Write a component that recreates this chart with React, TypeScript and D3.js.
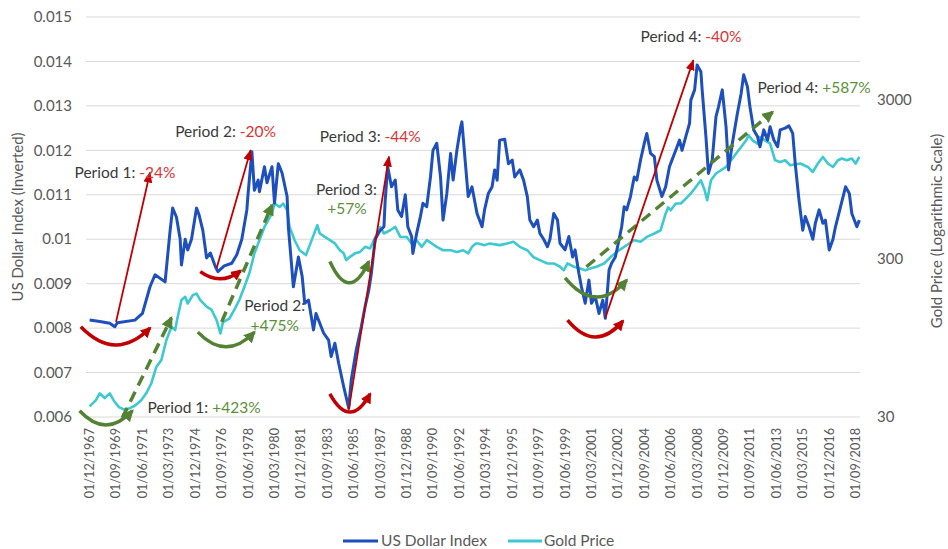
import React from "react";
import * as d3 from "d3";

// ---------- data ----------
const xTickLabels = [
  "01/12/1967", "01/09/1969", "01/06/1971", "01/03/1973", "01/12/1974", "01/09/1976",
  "01/06/1978", "01/03/1980", "01/12/1981", "01/09/1983", "01/06/1985", "01/03/1987",
  "01/12/1988", "01/09/1990", "01/06/1992", "01/03/1994", "01/12/1995", "01/09/1997",
  "01/06/1999", "01/03/2001", "01/12/2002", "01/09/2004", "01/06/2006", "01/03/2008",
  "01/12/2009", "01/09/2011", "01/06/2013", "01/03/2015", "01/12/2016", "01/09/2018",
];
const leftTicks = [0.006, 0.007, 0.008, 0.009, 0.01, 0.011, 0.012, 0.013, 0.014, 0.015];
const leftTickLabels = ["0.006", "0.007", "0.008", "0.009", "0.01", "0.011", "0.012", "0.013", "0.014", "0.015"];
const rightTicks = [30, 300, 3000];
const rightTickLabels = ["30", "300", "3000"];

// US Dollar Index (inverted = 1/DXY), month -> value
const usdIndex: [string, number][] = [
  ["1967-12", 0.00818], ["1968-08", 0.00815], ["1969-04", 0.00811], ["1969-08", 0.00803], ["1969-10", 0.00812],
  ["1970-12", 0.00818], ["1971-06", 0.00833], ["1971-12", 0.00893], ["1972-04", 0.0092], ["1972-12", 0.00904],
  ["1973-04", 0.0102], ["1973-06", 0.0107], ["1973-09", 0.0105], ["1973-12", 0.01], ["1974-01", 0.00942],
  ["1974-04", 0.01], ["1974-06", 0.00976], ["1974-09", 0.01], ["1975-01", 0.0107], ["1975-03", 0.01055],
  ["1975-06", 0.0102], ["1975-09", 0.00958], ["1975-12", 0.00969], ["1976-04", 0.00938], ["1976-06", 0.00927],
  ["1976-11", 0.0094], ["1977-05", 0.00946], ["1977-09", 0.00965], ["1978-01", 0.01], ["1978-05", 0.01066],
  ["1978-06", 0.01103], ["1978-09", 0.01197], ["1978-11", 0.0111], ["1979-02", 0.01133], ["1979-03", 0.01107],
  ["1979-07", 0.01163], ["1979-09", 0.01127], ["1980-01", 0.01163], ["1980-03", 0.01081], ["1980-06", 0.0117],
  ["1980-09", 0.01149], ["1981-01", 0.01096], ["1981-02", 0.01028], ["1981-06", 0.00893], ["1981-10", 0.0096],
  ["1982-01", 0.00916], ["1982-03", 0.00856], ["1982-06", 0.00863], ["1982-10", 0.00796], ["1982-12", 0.00833],
  ["1983-06", 0.00789], ["1983-10", 0.00773], ["1983-12", 0.00736], ["1984-03", 0.00766], ["1984-06", 0.00721],
  ["1984-10", 0.00668], ["1985-02", 0.0062], ["1985-04", 0.00683], ["1985-08", 0.00751], ["1985-12", 0.00803],
  ["1986-03", 0.00848], ["1986-06", 0.00886], ["1986-08", 0.00923], ["1986-11", 0.01], ["1987-03", 0.0102],
  ["1987-06", 0.01028], ["1987-07", 0.01088], ["1987-09", 0.01163], ["1987-12", 0.01118], ["1988-03", 0.01133],
  ["1988-05", 0.01066], ["1988-08", 0.01051], ["1988-11", 0.011], ["1989-01", 0.01028], ["1989-04", 0.01006],
  ["1989-05", 0.00968], ["1989-08", 0.01013], ["1989-11", 0.01051], ["1990-01", 0.01081], ["1990-04", 0.01073],
  ["1990-07", 0.0114], ["1990-09", 0.012], ["1990-12", 0.01216], ["1991-03", 0.0114], ["1991-05", 0.01043],
  ["1991-08", 0.01103], ["1991-11", 0.01193], ["1992-01", 0.01133], ["1992-04", 0.012], ["1992-07", 0.01253],
  ["1992-08", 0.01264], ["1992-11", 0.01163], ["1993-01", 0.01096], ["1993-04", 0.01118], ["1993-08", 0.01058],
  ["1993-12", 0.01028], ["1994-02", 0.01066], ["1994-05", 0.01103], ["1994-08", 0.01118], ["1994-10", 0.01156],
  ["1994-12", 0.01133], ["1995-02", 0.01223], ["1995-06", 0.01225], ["1995-09", 0.0117], ["1995-12", 0.01178],
  ["1996-02", 0.0114], ["1996-06", 0.01156], ["1996-09", 0.01133], ["1996-12", 0.01096], ["1997-02", 0.01043],
  ["1997-05", 0.01028], ["1997-08", 0.01043], ["1997-10", 0.01013], ["1998-01", 0.01], ["1998-04", 0.00983],
  ["1998-06", 0.01], ["1998-09", 0.01058], ["1998-12", 0.01043], ["1999-02", 0.00991], ["1999-06", 0.00976],
  ["1999-09", 0.01006], ["1999-12", 0.0096], ["2000-02", 0.00976], ["2000-05", 0.00923], ["2000-07", 0.00893],
  ["2000-10", 0.00856], ["2001-01", 0.00908], ["2001-03", 0.00856], ["2001-06", 0.00871], ["2001-09", 0.00833],
  ["2001-12", 0.00863], ["2002-02", 0.00822], ["2002-05", 0.00931], ["2002-07", 0.00946], ["2002-10", 0.0096],
  ["2003-01", 0.01], ["2003-03", 0.01028], ["2003-05", 0.01073], ["2003-07", 0.01066], ["2003-10", 0.01096],
  ["2004-01", 0.0114], ["2004-03", 0.01133], ["2004-06", 0.01178], ["2004-09", 0.01216], ["2004-11", 0.01238],
  ["2005-02", 0.01193], ["2005-05", 0.01186], ["2005-07", 0.01133], ["2005-11", 0.01096], ["2006-02", 0.01118],
  ["2006-05", 0.01163], ["2006-07", 0.01178], ["2006-10", 0.012], ["2007-01", 0.01223], ["2007-03", 0.012],
  ["2007-06", 0.01231], ["2007-09", 0.01261], ["2007-10", 0.01313], ["2008-01", 0.01336], ["2008-03", 0.01392],
  ["2008-06", 0.01377], ["2008-07", 0.01336], ["2008-10", 0.01231], ["2008-12", 0.01148], ["2009-03", 0.01178],
  ["2009-06", 0.01276], ["2009-08", 0.01298], ["2009-11", 0.01336], ["2010-02", 0.01253], ["2010-04", 0.01156],
  ["2010-07", 0.01216], ["2010-11", 0.01283], ["2011-02", 0.01328], ["2011-04", 0.0137], ["2011-07", 0.01343],
  ["2011-09", 0.01298], ["2011-12", 0.01246], ["2012-03", 0.01231], ["2012-05", 0.01208], ["2012-08", 0.01246],
  ["2012-11", 0.01223], ["2013-01", 0.01253], ["2013-04", 0.01223], ["2013-07", 0.01208], ["2013-09", 0.01246],
  ["2014-01", 0.0125], ["2014-04", 0.01255], ["2014-07", 0.01238], ["2014-09", 0.0117], ["2014-12", 0.01088],
  ["2015-03", 0.0102], ["2015-05", 0.01051], ["2015-08", 0.01028], ["2015-11", 0.01], ["2016-01", 0.01036],
  ["2016-04", 0.01066], ["2016-07", 0.01036], ["2016-09", 0.01043], ["2016-12", 0.00976], ["2017-03", 0.01],
  ["2017-05", 0.01028], ["2017-09", 0.01073], ["2018-01", 0.01118], ["2018-04", 0.01103], ["2018-06", 0.01058],
  ["2018-10", 0.01028], ["2018-12", 0.01043],
];

// Gold price (USD/oz), month -> value
const goldPrice: [string, number][] = [
  ["1967-12", 35], ["1968-05", 38.3], ["1968-08", 42.3], ["1968-12", 39.5], ["1969-04", 42.3], ["1969-07", 38.3],
  ["1969-11", 34.8], ["1970-03", 33.5], ["1970-08", 34.1], ["1970-12", 35.3], ["1971-05", 38.3], ["1971-09", 42.3],
  ["1972-01", 48.8], ["1972-05", 62.1], ["1972-09", 68.5], ["1973-01", 91.5], ["1973-05", 111], ["1973-08", 106],
  ["1973-10", 128], ["1974-01", 164], ["1974-04", 172], ["1974-06", 156], ["1974-10", 176], ["1975-01", 180],
  ["1975-04", 164], ["1975-09", 149], ["1976-01", 142], ["1976-05", 122], ["1976-08", 101], ["1976-10", 119],
  ["1977-03", 125], ["1977-07", 142], ["1977-11", 164], ["1978-03", 198], ["1978-07", 242], ["1978-11", 323],
  ["1979-03", 391], ["1979-07", 474], ["1980-01", 577], ["1980-03", 666], ["1980-07", 634], ["1980-10", 666],
  ["1981-01", 604], ["1981-03", 474], ["1981-07", 391], ["1981-11", 338], ["1982-04", 315], ["1982-09", 400],
  ["1983-01", 486], ["1983-03", 431], ["1983-07", 410], ["1983-11", 391], ["1984-03", 373], ["1984-07", 338],
  ["1984-10", 323], ["1984-12", 293], ["1985-03", 307], ["1985-07", 323], ["1985-11", 330], ["1986-03", 355],
  ["1986-07", 347], ["1986-10", 391], ["1987-03", 474], ["1987-06", 431], ["1987-11", 452], ["1988-03", 474],
  ["1988-07", 410], ["1988-12", 410], ["1989-04", 373], ["1989-08", 391], ["1989-12", 355], ["1990-04", 391],
  ["1990-08", 373], ["1990-12", 355], ["1991-05", 338], ["1991-11", 338], ["1992-04", 330], ["1992-09", 338],
  ["1993-01", 323], ["1993-04", 355], ["1993-07", 373], ["1993-09", 373], ["1994-02", 364], ["1994-06", 373],
  ["1995-02", 364], ["1995-08", 373], ["1996-01", 382], ["1996-06", 355], ["1996-12", 338], ["1997-05", 305],
  ["1997-10", 293], ["1998-04", 279], ["1998-09", 279], ["1999-02", 266], ["1999-05", 253], ["1999-08", 279],
  ["2000-01", 266], ["2000-06", 259], ["2000-10", 253], ["2001-02", 259], ["2001-07", 266], ["2002-01", 279],
  ["2002-06", 305], ["2002-11", 330], ["2003-05", 355], ["2003-09", 373], ["2004-01", 391], ["2004-06", 382],
  ["2004-11", 410], ["2005-05", 431], ["2005-10", 452], ["2006-02", 577], ["2006-04", 630], ["2006-06", 604],
  ["2006-10", 666], ["2007-02", 666], ["2007-06", 716], ["2007-10", 771], ["2008-02", 847], ["2008-06", 934],
  ["2008-09", 808], ["2008-11", 699], ["2009-02", 934], ["2009-06", 1030], ["2009-10", 1080], ["2010-02", 1133],
  ["2010-06", 1248], ["2010-10", 1376], ["2011-02", 1515], ["2011-06", 1668], ["2011-08", 1797], ["2011-11", 1668],
  ["2012-03", 1592], ["2012-05", 1750], ["2012-09", 1668], ["2013-01", 1592], ["2013-05", 1248], ["2013-09", 1218],
  ["2014-01", 1248], ["2014-05", 1161], ["2015-01", 1191], ["2015-07", 1133], ["2015-11", 1053], ["2016-03", 1191],
  ["2016-07", 1310], ["2016-11", 1191], ["2017-03", 1133], ["2017-07", 1248], ["2017-10", 1280], ["2018-02", 1248],
  ["2018-06", 1280], ["2018-09", 1191], ["2018-12", 1310],
];

// annotations, in (month, left-axis value) units
type Pt = [string, number];
const redArrows: { from: Pt; to: Pt }[] = [
  { from: ["1969-09", 0.00814], to: ["1971-12", 0.0115] },
  { from: ["1976-05", 0.00935], to: ["1978-08", 0.012] },
  { from: ["1985-02", 0.00616], to: ["1987-10", 0.01186] },
  { from: ["2002-02", 0.00823], to: ["2007-12", 0.01403] },
];
const greenArrows: { from: Pt; to: Pt }[] = [
  { from: ["1970-02", 0.00598], to: ["1973-05", 0.00823] },
  { from: ["1976-09", 0.00814], to: ["1980-01", 0.01077] },
  { from: ["2000-11", 0.00938], to: ["2013-03", 0.01286] },
];
const redArcs: { left: Pt; right: Pt; bottom: number }[] = [
  { left: ["1967-05", 0.00803], right: ["1971-12", 0.008], bottom: 0.00762 },
  { left: ["1975-04", 0.00927], right: ["1977-12", 0.00929], bottom: 0.00911 },
  { left: ["1983-11", 0.00652], right: ["1986-07", 0.00652], bottom: 0.00611 },
  { left: ["1999-08", 0.00818], right: ["2003-04", 0.00816], bottom: 0.0078 },
];
const greenArcs: { left: Pt; right: Pt; bottom: number }[] = [
  { left: ["1967-04", 0.00614], right: ["1970-10", 0.00614], bottom: 0.00582 },
  { left: ["1975-02", 0.00791], right: ["1978-11", 0.00791], bottom: 0.00758 },
  { left: ["1983-11", 0.0095], right: ["1986-06", 0.0095], bottom: 0.00902 },
  { left: ["1999-06", 0.00913], right: ["2003-07", 0.00908], bottom: 0.0087 },
];
const labels: { at: Pt; label: string; value: string; kind: "red" | "green" }[] = [
  { at: ["1966-12", 0.01138], label: "Period 1: ", value: "-24%", kind: "red" },
  { at: ["1973-08", 0.0123], label: "Period 2: ", value: "-20%", kind: "red" },
  { at: ["1983-03", 0.01219], label: "Period 3: ", value: "-44%", kind: "red" },
  { at: ["2004-06", 0.01444], label: "Period 4: ", value: "-40%", kind: "red" },
  { at: ["1971-10", 0.00609], label: "Period 1: ", value: "+423%", kind: "green" },
  { at: ["2012-03", 0.01329], label: "Period 4: ", value: "+587%", kind: "green" },
];
const stackedLabels: { at: Pt; valueAt: Pt; label: string; value: string }[] = [
  { at: ["1978-03", 0.00839], valueAt: ["1978-08", 0.00794], label: "Period 2:", value: "+475%" },
  { at: ["1982-12", 0.011], valueAt: ["1983-09", 0.01057], label: "Period 3:", value: "+57%" },
];

// ---------- styles ----------
const FONT = "Lato, 'Open Sans', sans-serif";
const BLUE = "#1d4fbf";
const CYAN = "#3ec8d0";
const RED = "#c00000";
const RED_TXT = "#dd3232";
const GREEN = "#548235";
const GREEN_TXT = "#5b8f3a";
const GRAY = "#595959";
const DARK = "#3a3a3a";

const mi = (s: string) => {
  const [y, m] = s.split("-").map(Number);
  return (y - 1967) * 12 + (m - 12);
};

export default function App() {
  const W = 948;
  const H = 549;
  const x = d3.scaleLinear().domain([-0.5, 612.5]).range([89, 860]);
  const yL = d3.scaleLinear().domain([0.006, 0.015]).range([417, 17]);
  const yR = d3.scaleLog().domain([30, 10000]).range([417, 17]);
  const px = (p: Pt): [number, number] => [x(mi(p[0])), yL(p[1])];

  const usdPath = d3
    .line<[string, number]>()
    .x((d) => x(mi(d[0])))
    .y((d) => yL(d[1]))(usdIndex) as string;
  const goldPath = d3
    .line<[string, number]>()
    .x((d) => x(mi(d[0])))
    .y((d) => yR(d[1]))(goldPrice) as string;

  const arcPath = (a: { left: Pt; right: Pt; bottom: number }) => {
    const [x0, y0] = px(a.left);
    const [x1, y1] = px(a.right);
    const yb = yL(a.bottom);
    const cy = 2 * yb - (y0 + y1) / 2;
    const path = d3.path();
    path.moveTo(x0, y0);
    path.quadraticCurveTo((x0 + x1) / 2, cy, x1, y1);
    return path.toString();
  };

  return (
    <svg
      width={W}
      height={H}
      style={{ position: "absolute", left: 0, top: 0, background: "#fff" }}
      fontFamily={FONT}
    >
      <defs>
        <marker id="ahRedThin" markerUnits="userSpaceOnUse" markerWidth={11} markerHeight={9} refX={10} refY={4.5} orient="auto">
          <path d="M0,0 L11,4.5 L0,9 Z" fill={RED} />
        </marker>
        <marker id="ahRedThick" markerUnits="userSpaceOnUse" markerWidth={11} markerHeight={11} refX={9} refY={5.5} orient="auto">
          <path d="M0,0 L11,5.5 L0,11 Z" fill={RED} />
        </marker>
        <marker id="ahGreen" markerUnits="userSpaceOnUse" markerWidth={12} markerHeight={12} refX={10} refY={6} orient="auto">
          <path d="M0,0 L12,6 L0,12 Z" fill={GREEN} />
        </marker>
      </defs>

      {/* gridlines */}
      {leftTicks.map((t) => (
        <line key={t} x1={86} x2={860} y1={yL(t)} y2={yL(t)} stroke="#d9d9d9" strokeWidth={1} />
      ))}

      {/* left tick labels */}
      {leftTicks.map((t, i) => (
        <text key={t} x={72} y={yL(t)} dy="0.35em" textAnchor="end" fontSize={15} fill={GRAY}>
          {leftTickLabels[i]}
        </text>
      ))}
      {/* right tick labels */}
      {rightTicks.map((t, i) => (
        <text key={t} x={877} y={yR(t)} dy="0.35em" textAnchor="start" fontSize={15} fill={GRAY}>
          {rightTickLabels[i]}
        </text>
      ))}
      {/* x tick labels */}
      {xTickLabels.map((l) => {
        const [dd, mm, yy] = l.split("/");
        const xp = x(mi(`${yy}-${mm}`));
        return (
          <text key={l} transform={`translate(${xp},428) rotate(-90)`} dy="0.35em" textAnchor="end" fontSize={12.7} fill={GRAY}>
            {l}
          </text>
        );
      })}

      {/* axis titles */}
      <text transform="translate(18,217) rotate(-90)" textAnchor="middle" dy="0.35em" fontSize={15} fill={GRAY}>
        US Dollar Index (Inverted)
      </text>
      <text transform="translate(937,231) rotate(-90)" textAnchor="middle" dy="0.35em" fontSize={15} fill={GRAY}>
        Gold Price (Logarithmic Scale)
      </text>

      {/* series */}
      <path d={goldPath} fill="none" stroke={CYAN} strokeWidth={2.6} strokeLinejoin="round" />
      <path d={usdPath} fill="none" stroke={BLUE} strokeWidth={3} strokeLinejoin="round" />

      {/* annotations: arcs */}
      {redArcs.map((a, i) => (
        <path key={"ra" + i} d={arcPath(a)} fill="none" stroke={RED} strokeWidth={3.5} markerEnd="url(#ahRedThick)" />
      ))}
      {greenArcs.map((a, i) => (
        <path key={"ga" + i} d={arcPath(a)} fill="none" stroke={GREEN} strokeWidth={3.5} markerEnd="url(#ahGreen)" />
      ))}
      {/* dashed green arrows */}
      {greenArrows.map((a, i) => {
        const [x0, y0] = px(a.from);
        const [x1, y1] = px(a.to);
        return (
          <line key={"gl" + i} x1={x0} y1={y0} x2={x1} y2={y1} stroke={GREEN} strokeWidth={3.5} strokeDasharray="11,7" markerEnd="url(#ahGreen)" />
        );
      })}
      {/* red arrows */}
      {redArrows.map((a, i) => {
        const [x0, y0] = px(a.from);
        const [x1, y1] = px(a.to);
        return <line key={"rl" + i} x1={x0} y1={y0} x2={x1} y2={y1} stroke={RED} strokeWidth={1.8} markerEnd="url(#ahRedThin)" />;
      })}

      {/* text labels */}
      {labels.map((l, i) => {
        const [lx, ly] = px(l.at);
        return (
          <text key={"t" + i} x={lx} y={ly} fontSize={15.5} fill={DARK}>
            {l.label}
            <tspan fill={l.kind === "red" ? RED_TXT : GREEN_TXT}>{l.value}</tspan>
          </text>
        );
      })}
      {stackedLabels.map((l, i) => {
        const [lx, ly] = px(l.at);
        const [vx, vy] = px(l.valueAt);
        return (
          <g key={"s" + i}>
            <text x={lx} y={ly} fontSize={15.5} fill={DARK}>
              {l.label}
            </text>
            <text x={vx} y={vy} fontSize={15.5} fill={GREEN_TXT}>
              {l.value}
            </text>
          </g>
        );
      })}

      {/* legend */}
      <line x1={343} x2={378} y1={541} y2={541} stroke={BLUE} strokeWidth={3} />
      <text x={381} y={541} dy="0.35em" fontSize={15.5} fill={GRAY}>
        US Dollar Index
      </text>
      <line x1={508} x2={542} y1={541} y2={541} stroke={CYAN} strokeWidth={3} />
      <text x={544} y={541} dy="0.35em" fontSize={15.5} fill={GRAY}>
        Gold Price
      </text>
    </svg>
  );
}
